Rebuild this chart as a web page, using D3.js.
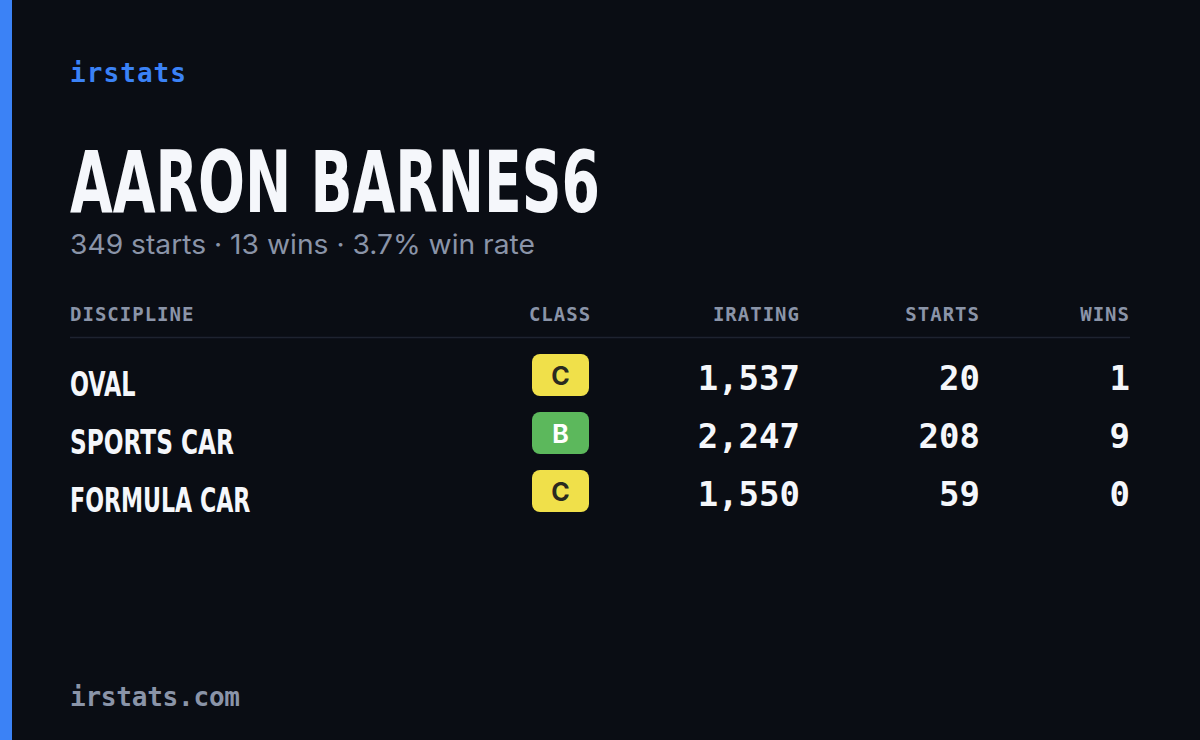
<!DOCTYPE html>
<html><head><meta charset="utf-8">
<script src="https://cdn.jsdelivr.net/npm/d3@7"></script>
<style>body{margin:0;background:#0a0d14}</style>
</head><body>
<script>
const disciplines = ["OVAL", "SPORTS CAR", "FORMULA CAR"];
const classes = ["C", "B", "C"];
const iratings = [1537, 2247, 1550];
const starts = [20, 208, 59];
const wins = [1, 9, 0];
const headers = ["DISCIPLINE", "CLASS", "IRATING", "STARTS", "WINS"];
const driver = "AARON BARNES6";
const careerStarts = 349, careerWins = 13;

const W = 1200, H = 740;
const mono = "'DejaVu Sans Mono', monospace";
const cond = "'Liberation Sans Narrow', 'DejaVu Sans Condensed', sans-serif";
const grey = "#8a94a8";
const classColor = {A: "#3b82f6", B: "#5cb85c", C: "#f0e04a", D: "#f59e0b", R: "#e5484d"};

const svg = d3.select("body").append("svg").attr("width", W).attr("height", H);
svg.append("rect").attr("width", W).attr("height", H).attr("fill", "#0a0d14");
svg.append("rect").attr("width", 12).attr("height", H).attr("fill", "#3b82f6");

svg.append("text").attr("x", 70).attr("y", 82).attr("fill", "#3b82f6")
  .attr("font-family", mono).attr("font-weight", "bold").attr("font-size", 26)
  .attr("textLength", 116).text("irstats");

svg.append("text").attr("x", 70).attr("y", 212).attr("fill", "#f5f7fb")
  .attr("font-family", cond).attr("font-weight", "bold").attr("font-size", 86)
  .attr("textLength", 530).attr("lengthAdjust", "spacingAndGlyphs").text(driver);

svg.append("text").attr("x", 70).attr("y", 254).attr("fill", grey)
  .attr("font-family", "Inter, sans-serif").attr("font-size", 27)
  .attr("textLength", 465).attr("lengthAdjust", "spacingAndGlyphs")
  .text(`${careerStarts} starts · ${careerWins} wins · ${(careerWins / careerStarts * 100).toFixed(1)}% win rate`);

const cols = [
  {x: 70, anchor: "start"}, {x: 560, anchor: "middle"},
  {x: 800, anchor: "end"}, {x: 980, anchor: "end"}, {x: 1130, anchor: "end"}
];
svg.selectAll("text.hdr").data(headers).join("text").attr("class", "hdr")
  .attr("x", (d, i) => cols[i].x).attr("y", 321).attr("text-anchor", (d, i) => cols[i].anchor)
  .attr("fill", grey).attr("font-family", mono).attr("font-weight", "bold").attr("font-size", 19)
  .attr("letter-spacing", 1).text(d => d);
svg.append("line").attr("x1", 70).attr("x2", 1130).attr("y1", 337.5).attr("y2", 337.5)
  .attr("stroke", "#1e2330").attr("stroke-width", 1.5);

const y = d3.scaleBand().domain(d3.range(disciplines.length)).range([346, 520]);
const fmt = d3.format(",");
const row = svg.selectAll("g.row").data(disciplines).join("g").attr("class", "row")
  .attr("transform", (d, i) => `translate(0,${y(i)})`);

row.append("text").attr("x", 70).attr("y", 50).attr("fill", "#f5f7fb")
  .attr("font-family", cond).attr("font-weight", "bold").attr("font-size", 33)
  .attr("textLength", (d) => d.length * 16.4).attr("lengthAdjust", "spacingAndGlyphs").text(d => d);
row.append("rect").attr("x", 532).attr("y", 8).attr("width", 57).attr("height", 42).attr("rx", 8)
  .attr("fill", (d, i) => classColor[classes[i]]);
row.append("text").attr("x", 560.5).attr("y", 39).attr("text-anchor", "middle")
  .attr("fill", (d, i) => classes[i] === "C" ? "#2a2a20" : "#ffffff")
  .attr("font-family", "Inter, sans-serif").attr("font-weight", "bold").attr("font-size", 25)
  .text((d, i) => classes[i]);
[[iratings, 2], [starts, 3], [wins, 4]].forEach(([arr, c]) => {
  row.append("text").attr("x", cols[c].x).attr("y", 44).attr("text-anchor", "end")
    .attr("fill", "#f5f7fb").attr("font-family", mono).attr("font-weight", "bold").attr("font-size", 34)
    .text((d, i) => fmt(arr[i]));
});

svg.append("text").attr("x", 70).attr("y", 706).attr("fill", grey)
  .attr("font-family", mono).attr("font-weight", "bold").attr("font-size", 26)
  .attr("textLength", 170).text("irstats.com");
</script>
</body></html>
